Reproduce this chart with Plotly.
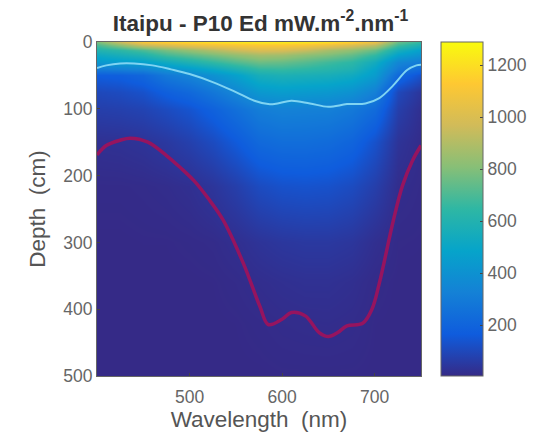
import plotly.graph_objects as go

wavelengths = [400, 425, 450, 475, 500, 525, 550, 575, 600, 625, 650, 675, 700, 725, 750]
depths = [0, 5, 12, 20, 30, 40, 50, 75, 100, 150, 215, 300, 360, 420, 500]
irradiance = [
    [780, 950, 1100, 1150, 1180, 1200, 1220, 1230, 1230, 1220, 1200, 1150, 1050, 750, 650],
    [700, 820, 950, 1000, 1050, 1080, 1100, 1120, 1120, 1100, 1060, 1000, 920, 680, 580],
    [600, 640, 700, 780, 840, 900, 960, 1000, 990, 950, 880, 830, 750, 560, 470],
    [520, 560, 600, 680, 730, 780, 830, 870, 860, 820, 790, 740, 650, 470, 400],
    [430, 450, 470, 530, 590, 650, 710, 760, 750, 720, 680, 640, 540, 350, 300],
    [300, 320, 340, 400, 450, 510, 580, 650, 660, 640, 620, 590, 480, 290, 220],
    [170, 180, 210, 290, 340, 400, 470, 560, 580, 570, 560, 530, 450, 220, 130],
    [100, 110, 130, 180, 220, 280, 350, 430, 450, 440, 430, 400, 320, 100, 40],
    [70, 75, 85, 110, 140, 190, 250, 310, 330, 325, 320, 290, 230, 70, 20],
    [25, 28, 35, 50, 75, 110, 160, 220, 240, 240, 230, 200, 130, 35, 10],
    [8, 8, 10, 14, 22, 40, 70, 110, 130, 135, 130, 110, 70, 15, 8],
    [4, 4, 5, 5, 7, 10, 20, 35, 45, 50, 50, 42, 20, 6, 5],
    [4, 4, 4, 4, 4, 5, 9, 16, 22, 26, 26, 20, 8, 4, 4],
    [4, 4, 4, 4, 4, 4, 5, 8, 12, 14, 15, 12, 5, 4, 4],
    [4, 4, 4, 4, 4, 4, 4, 4, 5, 5, 5, 5, 4, 4, 4],
]
cyan_wl = [400, 410, 425, 440, 460, 480, 500, 525, 550, 570, 585, 595, 610, 630, 650, 670, 690, 705, 720, 735, 745, 750]
cyan_depth = [39, 35, 32, 32, 35, 41, 48, 60, 75, 88, 93, 92, 88, 92, 97, 93, 92, 84, 65, 42, 35, 34]
red_wl = [400, 410, 425, 436, 455, 475, 490, 505, 520, 536, 558, 576, 585, 600, 610, 625, 640, 650, 660, 670, 687, 697, 705, 720, 730, 741, 750]
red_depth = [169, 155, 147, 144, 150, 170, 188, 208, 234, 266, 331, 396, 423, 415, 405, 410, 435, 441, 435, 425, 421, 400, 361, 268, 215, 177, 155]
colorbar_ticks = [200, 400, 600, 800, 1000, 1200]
parula = ["#352a87", "#0f5cdd", "#1481d6", "#06a4ca", "#2eb7a4", "#87bf77", "#d1bb59", "#fec832", "#f9fb0e"]

axis_font = dict(family="Liberation Sans", size=17.5, color="#666666")
title_font = dict(family="Liberation Sans", size=22.5, color="#555555")

fig = go.Figure()
fig.add_trace(go.Heatmap(
    x=wavelengths, y=depths, z=irradiance, zsmooth="best",
    zmin=4, zmax=1290,
    colorscale=[[i / (len(parula) - 1), c] for i, c in enumerate(parula)],
    colorbar=dict(
        x=1.0617, xanchor="left", xpad=0, y=0, yanchor="bottom", len=1, ypad=0,
        thickness=42, outlinewidth=1, outlinecolor="#666666",
        tickvals=colorbar_ticks, ticks="inside", ticklen=3, tickcolor="#444444",
        tickfont=axis_font,
    ),
))
fig.add_trace(go.Scatter(x=cyan_wl, y=cyan_depth, mode="lines",
                         line=dict(color="#7fd4f2", width=2, shape="spline"), showlegend=False))
fig.add_trace(go.Scatter(x=red_wl, y=red_depth, mode="lines",
                         line=dict(color="#96145f", width=3.5, shape="spline"), showlegend=False))

fig.update_layout(
    width=546, height=439, autosize=False,
    margin=dict(l=97, r=125, t=42, b=63),
    paper_bgcolor="white", plot_bgcolor="white",
    title=dict(text="<b>Itaipu - P10 Ed mW.m<sup>-2</sup>.nm<sup>-1</sup></b>",
               x=0.477, xanchor="center", y=0.948, yanchor="middle",
               font=dict(family="Liberation Sans", size=22.5, color="#333333")),
)
fig.update_xaxes(range=[400, 750], tickvals=[500, 600, 700], ticks="inside", ticklen=3,
                 tickcolor="#444444", showline=True, linecolor="#666666", mirror=True,
                 showgrid=False, zeroline=False, tickfont=axis_font, ticklabelstandoff=5,
                 automargin=False, title=dict(text="Wavelength  (nm)", font=title_font, standoff=4))
fig.update_yaxes(range=[500, 0], tickvals=[0, 100, 200, 300, 400, 500], ticks="inside", ticklen=3,
                 tickcolor="#444444", showline=True, linecolor="#666666", mirror=True,
                 showgrid=False, zeroline=False, tickfont=axis_font, automargin=False,
                 title=dict(text="Depth  (cm)", font=title_font, standoff=11))

fig.write_html("out.html", config={"displayModeBar": False},
               post_script="document.body.style.margin='0';")
